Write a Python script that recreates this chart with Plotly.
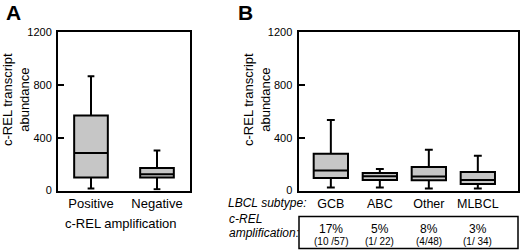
import plotly.graph_objects as go

# Panel A data
a_cats = ["Positive", "Negative"]
a_low = [15, 10]
a_q1 = [98, 98]
a_med = [284, 123]
a_q3 = [568, 170]
a_high = [865, 302]

# Panel B data
b_cats = ["GCB", "ABC", "Other", "MLBCL"]
b_low = [23, 23, 15, 15]
b_q1 = [95, 80, 78, 50]
b_med = [151, 108, 106, 80]
b_q3 = [279, 133, 178, 140]
b_high = [533, 163, 309, 264]
b_pct = ["17%", "5%", "8%", "3%"]
b_frac = ["(10 /57)", "(1/ 22)", "(4/48)", "(1/ 34)"]

y_ticks = [0, 400, 800, 1200]

W, H = 520, 251
FONT = "Liberation Sans, Arial, sans-serif"
FILL = "#c6c6c6"

def px(x):
    return x / W

def py(y):
    return 1 - y / H

fig = go.Figure()

fig.add_trace(go.Box(
    x=a_cats, q1=a_q1, median=a_med, q3=a_q3,
    lowerfence=a_low, upperfence=a_high,
    fillcolor=FILL, line=dict(color="black", width=2),
    width=0.51, whiskerwidth=0.2, boxpoints=False,
    xaxis="x", yaxis="y", showlegend=False, hoverinfo="skip"))

fig.add_trace(go.Box(
    x=b_cats, q1=b_q1, median=b_med, q3=b_q3,
    lowerfence=b_low, upperfence=b_high,
    fillcolor=FILL, line=dict(color="black", width=2),
    width=0.7, whiskerwidth=0.23, boxpoints=False,
    xaxis="x2", yaxis="y2", showlegend=False, hoverinfo="skip"))

ydom = [py(190.5), py(32)]
yax = dict(range=[0, 1200], tickvals=y_ticks, ticks="inside", ticklen=6,
           tickwidth=2, tickcolor="black", showline=True, linewidth=2,
           linecolor="black", mirror=True, showgrid=False, zeroline=False,
           tickfont=dict(size=11, color="black", family=FONT), domain=ydom,
           ticklabelstandoff=2, automargin=False)
xax = dict(showline=True, linewidth=2, linecolor="black", mirror=True,
           showgrid=False, zeroline=False, ticks="", type="category",
           tickfont=dict(size=13, color="black", family=FONT), automargin=False)

fig.update_layout(
    template="none",
    width=W, height=H, margin=dict(l=0, r=0, t=0, b=0, pad=0, autoexpand=False),
    paper_bgcolor="white", plot_bgcolor="white",
    font=dict(family=FONT, color="black"),
    xaxis=dict(xax, domain=[px(58), px(190)], range=[-0.5, 1.5], anchor="y"),
    yaxis=dict(yax, anchor="x"),
    xaxis2=dict(xax, domain=[px(298.5), px(518)], range=[-0.66, 3.82],
                anchor="y2", tickfont=dict(size=12.5, color="black", family=FONT)),
    yaxis2=dict(yax, anchor="x2"),
)

ann = []
def add(text, x, y, size, xref="paper", yref="paper", xanchor="center",
        angle=0, bold=False, italic=False):
    t = text
    if bold:
        t = "<b>" + t + "</b>"
    if italic:
        t = "<i>" + t + "</i>"
    ann.append(dict(text=t, x=x, y=y, xref=xref, yref=yref, xanchor=xanchor,
                    yanchor="middle", showarrow=False, textangle=angle,
                    font=dict(size=size, family=FONT, color="black")))

add("A", px(4), py(13), 21, xanchor="left", bold=True)
add("B", px(236), py(13), 21, xanchor="left", bold=True)
add("c-REL transcript<br>abundance", px(16), py(100), 13, angle=-90)
add("c-REL transcript<br>abundance", px(257), py(100), 13, angle=-90)
add("c-REL amplification", px(121), py(223), 13)
add("LBCL subtype:", px(226), py(203), 12, xanchor="left", italic=True)
add("c-REL", px(227), py(219), 12, xanchor="left", italic=True)
add("amplification:", px(227), py(233), 12, xanchor="left", italic=True)
for c, p, f in zip(b_cats, b_pct, b_frac):
    add(p, c, py(229), 12, xref="x2")
    add(f, c, py(241), 10, xref="x2")
fig.update_layout(annotations=ann)

fig.add_shape(type="rect", xref="paper", yref="paper",
              x0=px(299), x1=px(518), y0=py(248.5), y1=py(216.5),
              line=dict(color="black", width=1.5))

fig.write_html("out.html", config={"displayModeBar": False},
               post_script="document.body.style.margin='0';document.body.style.overflow='hidden';")
